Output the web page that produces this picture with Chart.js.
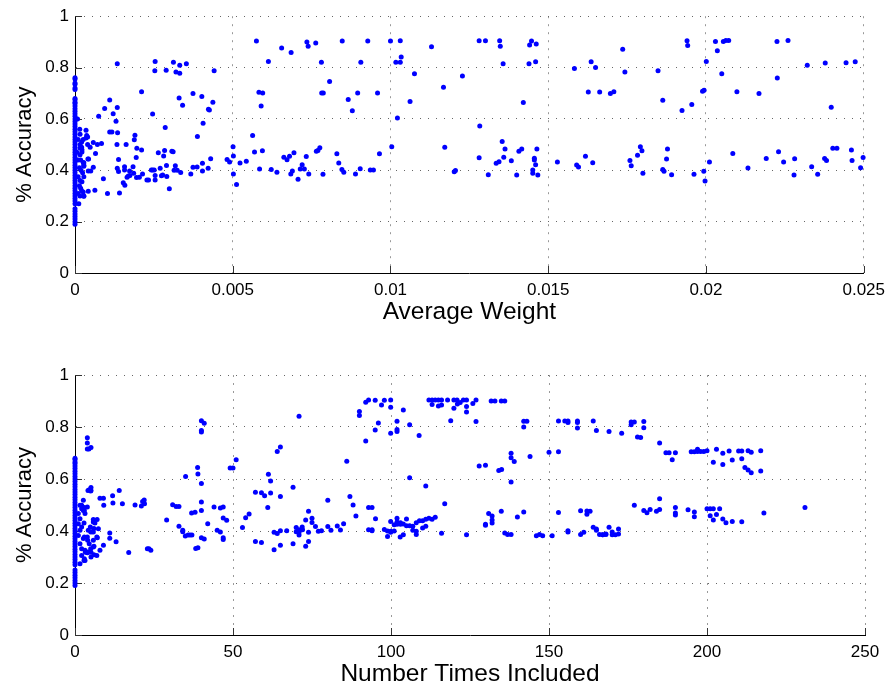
<!DOCTYPE html>
<html>
<head>
<meta charset="utf-8">
<script src="https://cdn.jsdelivr.net/npm/chart.js@4.4.0/dist/chart.umd.min.js"></script>
<style>
  html, body { margin: 0; padding: 0; background: #fff; }
  body { width: 892px; height: 693px; position: relative; overflow: hidden; }
  canvas { position: absolute; left: 0; }
</style>
</head>
<body>
<canvas id="weightChart" width="892" height="346" style="top:0"></canvas>
<canvas id="timesChart" width="892" height="347" style="top:346px"></canvas>
<script>
const accuracyTicks = [0, 0.2, 0.4, 0.6, 0.8, 1];
const weightTicks = [0, 0.005, 0.01, 0.015, 0.02, 0.025];
const timesTicks = [0, 50, 100, 150, 200, 250];

// accuracy values sitting right on x = 0 (the dense column)
const weightZeroY = [0.76, 0.755, 0.74, 0.735, 0.72, 0.715, 0.68, 0.675, 0.665, 0.66, 0.65, 0.64, 0.63, 0.62, 0.61,
  0.6, 0.59, 0.58, 0.57, 0.56, 0.55, 0.54, 0.53, 0.52, 0.51, 0.5, 0.49, 0.48, 0.47, 0.46, 0.45, 0.44, 0.43, 0.42,
  0.41, 0.4, 0.39, 0.38, 0.37, 0.36, 0.35, 0.34, 0.33, 0.32, 0.31, 0.3, 0.29, 0.28, 0.27, 0.25, 0.24, 0.23, 0.22,
  0.21, 0.2, 0.19];

const weightPoints = [
  [0.0001, 0.52], [0.00016, 0.5], [0.00021, 0.49], [0.00021, 0.51], [0.00022, 0.48], [0.00016, 0.46], [0.0001, 0.44],
  [0.00018, 0.44], [0.00026, 0.43], [0.00028, 0.42], [0.00014, 0.41], [0.00019, 0.4], [0.00024, 0.39], [0.0001, 0.375],
  [0.00016, 0.36], [0.00022, 0.355], [0.00028, 0.375], [0.00014, 0.34], [0.00018, 0.33], [0.00021, 0.32], [0.00026, 0.315],
  [0.0001, 0.31], [0.00016, 0.3], [0.00028, 0.3], [0.00012, 0.27], [0.00016, 0.54], [0.00026, 0.52], [0.00015, 0.56],
  [0.00008, 0.6], [0.00006, 0.47],
  [0.00134, 0.815], [0.00254, 0.824], [0.00253, 0.788], [0.00312, 0.821], [0.00332, 0.809], [0.00353, 0.815],
  [0.00289, 0.79], [0.0032, 0.783], [0.00332, 0.778], [0.00441, 0.788], [0.00211, 0.706], [0.0011, 0.674],
  [0.00094, 0.641], [0.00134, 0.644], [0.00075, 0.61], [0.00121, 0.62], [0.0013, 0.591], [0.0011, 0.549],
  [0.00117, 0.549], [0.00135, 0.546], [0.00035, 0.556], [0.00037, 0.535], [0.0004, 0.53], [0.00035, 0.526],
  [0.0019, 0.536], [0.00188, 0.519], [0.00133, 0.5], [0.00162, 0.5], [0.00058, 0.508], [0.00071, 0.5],
  [0.00084, 0.504], [0.0004, 0.5], [0.00022, 0.471], [0.00016, 0.487], [0.00196, 0.486], [0.00211, 0.479],
  [0.00194, 0.45], [0.00138, 0.442], [0.00065, 0.465], [0.00041, 0.444], [0.00028, 0.429], [0.00028, 0.416],
  [0.00058, 0.412], [0.00134, 0.408], [0.00138, 0.395], [0.00157, 0.414], [0.00157, 0.401], [0.00173, 0.397],
  [0.00184, 0.414], [0.00186, 0.388], [0.00165, 0.373], [0.00169, 0.378], [0.00174, 0.38], [0.00195, 0.372],
  [0.00204, 0.373], [0.00214, 0.386], [0.00228, 0.362], [0.00233, 0.362], [0.00242, 0.401], [0.00246, 0.401],
  [0.00251, 0.401], [0.00254, 0.362], [0.00254, 0.38], [0.0027, 0.408], [0.00274, 0.379], [0.00278, 0.382],
  [0.0029, 0.419], [0.00291, 0.376], [0.00299, 0.328], [0.00314, 0.4], [0.00318, 0.418], [0.00324, 0.4],
  [0.00335, 0.391], [0.00367, 0.386], [0.00374, 0.412], [0.00387, 0.413], [0.00404, 0.427], [0.00404, 0.397],
  [0.00422, 0.408], [0.0043, 0.445], [0.00406, 0.583], [0.00388, 0.532], [0.00374, 0.699], [0.00402, 0.687],
  [0.00423, 0.638], [0.00426, 0.635], [0.00437, 0.665], [0.0033, 0.681], [0.00341, 0.653], [0.00246, 0.619],
  [0.00286, 0.567], [0.00264, 0.468], [0.00281, 0.456], [0.00284, 0.477], [0.00307, 0.474], [0.00311, 0.472],
  [0.0009, 0.367], [0.00103, 0.31], [0.00141, 0.312], [0.00153, 0.351], [0.00158, 0.342], [0.00063, 0.322],
  [0.00042, 0.318], [0.00028, 0.299], [0.00042, 0.397], [0.0005, 0.397], [0.00043, 0.444], [0.00048, 0.49],
  [0.00575, 0.903], [0.00613, 0.824], [0.00655, 0.876], [0.00685, 0.859], [0.00735, 0.9], [0.00739, 0.883],
  [0.00763, 0.896], [0.00781, 0.821], [0.00807, 0.746], [0.00782, 0.701], [0.00787, 0.701], [0.00583, 0.704],
  [0.00595, 0.701], [0.0059, 0.65], [0.00563, 0.535], [0.00569, 0.471], [0.00594, 0.476], [0.00585, 0.405],
  [0.00501, 0.492], [0.00502, 0.456], [0.00502, 0.386], [0.00512, 0.345], [0.00523, 0.428], [0.00543, 0.435],
  [0.00482, 0.442], [0.0049, 0.432], [0.00622, 0.403], [0.0064, 0.392], [0.00662, 0.451], [0.00672, 0.441],
  [0.0068, 0.455], [0.00684, 0.386], [0.00689, 0.397], [0.00694, 0.468], [0.00707, 0.365], [0.00714, 0.405],
  [0.0072, 0.422], [0.00727, 0.405], [0.00733, 0.454], [0.00741, 0.386], [0.00765, 0.474], [0.0077, 0.477],
  [0.00776, 0.488], [0.00786, 0.385], [0.0083, 0.464], [0.00836, 0.428],
  [0.00847, 0.903], [0.00928, 0.903], [0.00906, 0.821], [0.00896, 0.701], [0.00866, 0.676], [0.00879, 0.632],
  [0.00959, 0.701], [0.00846, 0.403], [0.00852, 0.392], [0.00889, 0.386], [0.00904, 0.406], [0.00936, 0.401],
  [0.00946, 0.401], [0.00965, 0.464], [0.01, 0.903], [0.01031, 0.904], [0.01017, 0.821], [0.01031, 0.821],
  [0.01034, 0.841], [0.0113, 0.881], [0.01076, 0.776], [0.01168, 0.723], [0.01228, 0.767], [0.01062, 0.668],
  [0.01022, 0.604], [0.01004, 0.492], [0.01172, 0.49], [0.01202, 0.394], [0.01206, 0.399], [0.01281, 0.904],
  [0.01301, 0.904], [0.01346, 0.904], [0.01348, 0.883], [0.01357, 0.815], [0.01441, 0.888], [0.01447, 0.903],
  [0.01462, 0.892], [0.0146, 0.823], [0.01439, 0.815], [0.01421, 0.664], [0.01283, 0.572], [0.01281, 0.449],
  [0.0131, 0.383], [0.01335, 0.427], [0.01344, 0.433], [0.01354, 0.512], [0.01363, 0.483], [0.01359, 0.451],
  [0.01383, 0.437], [0.014, 0.382], [0.01407, 0.474], [0.01416, 0.483], [0.01456, 0.447], [0.01456, 0.44],
  [0.0146, 0.422], [0.01451, 0.401], [0.01451, 0.388], [0.01467, 0.382], [0.01464, 0.483], [0.01529, 0.432],
  [0.01583, 0.796], [0.01636, 0.823], [0.0165, 0.8], [0.01627, 0.705], [0.01663, 0.705], [0.0159, 0.421],
  [0.01596, 0.413], [0.01618, 0.455], [0.01641, 0.429],
  [0.01736, 0.871], [0.01743, 0.783], [0.01697, 0.699], [0.01708, 0.706], [0.01848, 0.788], [0.01863, 0.673],
  [0.01924, 0.633], [0.01955, 0.656], [0.0194, 0.904], [0.01942, 0.886], [0.01989, 0.708], [0.01994, 0.712],
  [0.02001, 0.824], [0.0203, 0.901], [0.02036, 0.865], [0.02055, 0.901], [0.02063, 0.905], [0.02072, 0.905],
  [0.0205, 0.776], [0.02098, 0.706], [0.02168, 0.699], [0.02225, 0.901], [0.0226, 0.905], [0.02226, 0.759],
  [0.02321, 0.809], [0.02378, 0.818], [0.02397, 0.645], [0.02444, 0.819], [0.02473, 0.823], [0.01759, 0.438],
  [0.01763, 0.418], [0.01783, 0.459], [0.01792, 0.492], [0.01797, 0.476], [0.018, 0.388], [0.01863, 0.403],
  [0.01867, 0.396], [0.01875, 0.444], [0.01878, 0.483], [0.01891, 0.383], [0.01962, 0.385], [0.01993, 0.396],
  [0.01997, 0.358], [0.02011, 0.432], [0.02085, 0.465], [0.02133, 0.409], [0.02191, 0.446], [0.0223, 0.472],
  [0.02246, 0.432], [0.02279, 0.382], [0.02281, 0.445], [0.02335, 0.414], [0.02354, 0.385], [0.02376, 0.446],
  [0.02382, 0.438], [0.02402, 0.486], [0.02415, 0.486], [0.02461, 0.479], [0.02463, 0.438], [0.0249, 0.41],
  [0.02498, 0.45]
];

const timesZeroY = [0.68, 0.675, 0.665, 0.66, 0.65, 0.64, 0.63, 0.62, 0.61, 0.6, 0.59, 0.58, 0.57, 0.56, 0.55,
  0.54, 0.53, 0.52, 0.51, 0.5, 0.49, 0.48, 0.47, 0.46, 0.45, 0.44, 0.43, 0.42, 0.41, 0.4, 0.39, 0.38, 0.37, 0.36,
  0.35, 0.34, 0.33, 0.32, 0.31, 0.3, 0.29, 0.28, 0.27, 0.25, 0.24, 0.23, 0.22, 0.21, 0.2, 0.19];

const timesPoints = [
  [1.58, 0.499], [2.1, 0.486], [1.05, 0.467], [2.64, 0.479], [1.58, 0.447], [1.05, 0.428], [2.1, 0.415],
  [1.58, 0.403], [1.05, 0.383], [2.64, 0.371], [1.58, 0.351], [2.1, 0.332], [3.16, 0.326], [4.2, 0.319],
  [4.96, 0.332], [5.8, 0.338], [4.5, 0.351], [5.8, 0.364], [6.9, 0.377], [5.8, 0.396], [7.4, 0.409],
  [5.8, 0.435], [5.0, 0.396], [2.64, 0.518], [4.5, 0.559], [4.96, 0.554], [3.16, 0.287], [1.58, 0.274],
  [2.1, 0.306], [6.9, 0.306], [7.9, 0.326], [3.9, 0.492], [3.16, 0.467], [2.1, 0.499], [2.95, 0.49],
  [2.95, 0.479], [2.85, 0.431], [5.8, 0.444], [6.3, 0.431], [6.0, 0.41], [7.0, 0.444], [4.85, 0.415],
  [5.4, 0.397], [4.2, 0.403], [4.0, 0.364], [2.95, 0.377], [3.9, 0.377], [7.07, 0.374], [6.0, 0.341],
  [5.06, 0.3], [5.06, 0.318], [3.9, 0.316], [3.27, 0.318], [2.85, 0.287], [2.95, 0.293], [6.0, 0.309],
  [3.9, 0.759], [3.9, 0.738], [3.9, 0.715], [5.06, 0.721], [4.4, 0.715], [4.1, 0.556], [5.06, 0.567],
  [5.06, 0.556],
  [7.9, 0.526], [9.0, 0.526], [9.1, 0.499], [9.0, 0.345], [11.0, 0.392], [11.0, 0.372], [11.9, 0.536],
  [12.0, 0.508], [13.0, 0.359], [14.0, 0.556], [15.0, 0.505], [17.0, 0.317], [19.0, 0.5], [21.0, 0.496],
  [21.4, 0.513], [21.9, 0.519], [22.0, 0.505], [22.9, 0.332], [23.4, 0.332], [24.0, 0.326], [29.0, 0.442],
  [30.9, 0.501], [32.0, 0.494], [32.9, 0.494], [32.9, 0.418], [34.1, 0.403], [34.1, 0.397], [35.0, 0.61],
  [34.9, 0.381], [35.8, 0.385], [36.4, 0.385], [37.0, 0.385], [36.9, 0.469], [38.0, 0.472], [38.2, 0.333],
  [38.9, 0.336], [38.8, 0.644], [38.9, 0.619], [40.0, 0.824], [40.0, 0.787], [40.0, 0.781], [40.9, 0.814],
  [40.0, 0.583], [40.0, 0.512], [40.0, 0.479], [40.0, 0.374], [40.9, 0.369], [42.0, 0.428], [44.0, 0.492],
  [45.0, 0.403], [46.0, 0.488], [46.9, 0.492], [46.0, 0.396], [46.9, 0.374], [46.9, 0.367], [46.9, 0.45],
  [48.0, 0.441], [49.1, 0.642], [50.0, 0.642], [51.0, 0.674], [53.0, 0.413], [54.0, 0.451], [55.1, 0.465],
  [57.1, 0.549], [57.1, 0.36], [59.0, 0.356], [59.0, 0.547], [60.0, 0.536], [61.0, 0.49], [61.2, 0.618],
  [61.9, 0.592], [61.9, 0.546], [63.0, 0.395], [64.0, 0.39], [63.0, 0.328], [64.0, 0.706], [65.0, 0.723],
  [65.0, 0.533], [65.0, 0.401], [65.0, 0.345], [67.0, 0.401], [69.0, 0.568], [69.0, 0.351], [70.0, 0.413],
  [70.0, 0.397], [70.9, 0.405], [70.9, 0.385], [70.9, 0.395], [71.9, 0.415], [72.0, 0.405], [70.9, 0.841],
  [73.0, 0.442], [73.0, 0.341], [73.9, 0.476], [75.0, 0.449], [75.0, 0.433], [73.9, 0.395], [73.9, 0.36],
  [76.1, 0.417], [77.0, 0.399], [78.0, 0.401], [80.0, 0.518], [80.0, 0.417], [81.0, 0.403], [83.0, 0.419],
  [84.0, 0.404], [85.0, 0.428], [86.0, 0.668], [87.0, 0.533], [88.0, 0.5], [88.9, 0.458], [90.0, 0.86],
  [90.0, 0.844], [92.0, 0.895], [92.9, 0.904], [92.0, 0.746], [95.0, 0.903], [95.0, 0.788], [96.0, 0.815],
  [97.0, 0.885], [97.9, 0.903], [99.9, 0.904], [99.9, 0.876], [99.9, 0.776], [101.9, 0.822], [101.9, 0.79],
  [101.9, 0.783], [103.9, 0.865], [105.9, 0.809], [108.9, 0.767], [105.9, 0.605], [111.0, 0.573], [92.9, 0.49],
  [94.0, 0.49], [95.1, 0.447], [92.9, 0.405], [94.0, 0.405], [94.0, 0.401], [97.9, 0.406], [98.9, 0.4],
  [99.9, 0.399], [101.0, 0.4], [98.9, 0.379], [99.9, 0.395], [99.9, 0.437], [101.0, 0.424], [101.9, 0.449],
  [101.9, 0.435], [103.0, 0.432], [103.9, 0.427], [103.0, 0.426], [101.9, 0.426], [102.9, 0.377], [103.9, 0.386],
  [104.9, 0.446], [104.9, 0.42], [105.9, 0.42], [106.9, 0.418], [106.9, 0.403], [108.0, 0.432], [108.0, 0.399],
  [108.0, 0.387], [109.0, 0.439], [110.0, 0.439], [110.0, 0.412], [111.0, 0.445], [111.0, 0.418], [112.0, 0.449],
  [113.0, 0.445], [114.0, 0.453], [116.0, 0.391], [117.0, 0.505],
  [112.0, 0.904], [113.0, 0.904], [114.0, 0.904], [115.0, 0.904], [116.0, 0.904], [113.0, 0.887], [115.0, 0.881],
  [116.0, 0.885], [117.9, 0.904], [119.9, 0.904], [120.9, 0.904], [122.9, 0.904], [123.9, 0.904], [126.9, 0.904],
  [121.0, 0.888], [121.9, 0.894], [119.9, 0.872], [123.9, 0.879], [123.9, 0.858], [125.9, 0.89], [118.9, 0.824],
  [126.9, 0.821], [123.9, 0.386], [127.9, 0.65], [129.9, 0.653], [129.9, 0.426], [129.9, 0.422], [130.9, 0.467],
  [132.0, 0.458], [132.0, 0.442], [132.0, 0.431], [131.7, 0.9], [132.9, 0.9], [134.9, 0.9], [136.0, 0.9],
  [134.1, 0.633], [135.0, 0.637], [134.9, 0.476], [136.0, 0.392], [136.9, 0.387], [138.0, 0.387], [138.0, 0.699],
  [138.0, 0.682], [139.0, 0.667], [138.0, 0.588], [140.0, 0.454], [142.0, 0.473], [142.0, 0.822], [142.0, 0.8],
  [143.0, 0.822], [144.0, 0.687], [146.0, 0.382], [147.0, 0.387], [148.0, 0.382], [150.0, 0.703], [151.0, 0.382],
  [153.0, 0.823], [153.0, 0.705], [153.0, 0.471], [155.0, 0.823], [156.0, 0.823], [156.0, 0.817], [159.0, 0.823],
  [159.0, 0.817], [159.0, 0.796], [164.0, 0.823], [156.0, 0.401], [156.0, 0.396], [160.0, 0.387], [161.0, 0.395],
  [160.0, 0.478], [162.0, 0.477], [162.0, 0.464], [163.0, 0.476], [165.0, 0.787], [164.0, 0.414], [165.0, 0.408],
  [165.0, 0.403], [166.0, 0.387], [167.0, 0.386], [168.0, 0.387], [169.0, 0.783], [169.0, 0.414],
  [173.0, 0.776], [176.0, 0.819], [176.0, 0.809], [177.0, 0.819], [180.0, 0.821], [180.0, 0.797], [178.0, 0.762],
  [179.0, 0.76], [185.0, 0.738], [187.0, 0.701], [188.0, 0.701], [190.0, 0.701], [189.0, 0.674], [195.0, 0.705],
  [196.0, 0.705], [197.0, 0.714], [197.0, 0.706], [198.0, 0.706], [199.0, 0.706], [200.0, 0.709], [202.0, 0.664],
  [203.0, 0.714], [205.0, 0.699], [205.0, 0.656], [207.0, 0.708], [208.0, 0.673], [210.0, 0.708], [211.0, 0.708],
  [211.0, 0.678], [212.0, 0.644], [213.0, 0.709], [213.0, 0.635], [214.0, 0.703], [214.0, 0.624], [217.0, 0.709],
  [217.0, 0.631],
  [167.0, 0.386], [168.0, 0.388], [170.0, 0.396], [170.0, 0.386], [171.0, 0.386], [172.0, 0.408], [172.0, 0.388],
  [177.0, 0.499], [180.0, 0.479], [181.0, 0.47], [182.0, 0.483], [184.0, 0.476], [185.0, 0.483], [185.0, 0.524],
  [190.0, 0.49], [190.0, 0.469], [190.0, 0.462], [194.0, 0.482], [196.0, 0.473], [196.0, 0.455], [200.0, 0.486],
  [201.0, 0.486], [202.0, 0.486], [204.0, 0.486], [201.0, 0.459], [203.0, 0.463], [202.0, 0.442], [205.0, 0.446],
  [206.0, 0.432], [208.0, 0.437], [211.0, 0.436], [218.0, 0.469], [231.0, 0.49]
];

const FONT = "'Liberation Sans', Arial, Helvetica, sans-serif";

// matlab style: short tick marks pointing into the plot
const inwardTicks = {
  id: 'inwardTicks',
  beforeDatasetsDraw(chart) {
    const ctx = chart.ctx;
    const xs = chart.scales.x, ys = chart.scales.y;
    const area = chart.chartArea;
    ctx.save();
    ctx.strokeStyle = '#333';
    ctx.lineWidth = 1;
    ctx.beginPath();
    xs.ticks.forEach(t => {
      const px = Math.round(xs.getPixelForValue(t.value)) + 0.5;
      ctx.moveTo(px, area.bottom);
      ctx.lineTo(px, area.bottom - 7);
    });
    ys.ticks.forEach(t => {
      const py = Math.round(ys.getPixelForValue(t.value)) + 0.5;
      ctx.moveTo(area.left, py);
      ctx.lineTo(area.left + 7, py);
    });
    ctx.stroke();
    ctx.restore();
  }
};

function makeScatter(canvasId, zeroY, points, xTicks, xTitle, padTop, axisHeight, titlePad) {
  const data = zeroY.map(y => ({ x: 0, y: y }))
    .concat(points.map(p => ({ x: p[0], y: p[1] })));

  new Chart(document.getElementById(canvasId), {
    type: 'scatter',
    data: {
      datasets: [{
        data: data,
        backgroundColor: '#0000ff',
        borderWidth: 0,
        pointRadius: 2.5,
        clip: false
      }]
    },
    plugins: [inwardTicks],
    options: {
      responsive: false,
      animation: false,
      devicePixelRatio: 1,
      layout: { padding: { left: 0, right: 27, top: padTop, bottom: 0 } },
      plugins: {
        legend: { display: false },
        tooltip: { enabled: false }
      },
      scales: {
        x: {
          type: 'linear',
          min: xTicks[0],
          max: xTicks[xTicks.length - 1],
          afterBuildTicks: s => { s.ticks = xTicks.map(v => ({ value: v })); },
          afterFit: s => { s.height = axisHeight; },
          grid: { color: '#999', drawTicks: false },
          border: { color: '#000', width: 1, dash: [2, 6] },
          ticks: {
            color: '#000', font: { family: FONT, size: 17 }, padding: 7,
            maxRotation: 0, autoSkip: false, callback: v => String(v)
          },
          title: {
            display: true, text: xTitle, color: '#000',
            font: { family: FONT, size: 24.5 }, padding: { top: 0, bottom: titlePad }
          }
        },
        y: {
          type: 'linear',
          min: 0,
          max: 1,
          afterBuildTicks: s => { s.ticks = accuracyTicks.map(v => ({ value: v })); },
          afterFit: s => { s.width = 75; },
          grid: { color: '#666', drawTicks: false },
          border: { color: '#000', width: 1, dash: [1, 7] },
          ticks: {
            color: '#000', font: { family: FONT, size: 17 }, padding: 6,
            autoSkip: false, callback: v => String(v)
          },
          title: {
            display: true, text: '% Accuracy', color: '#000',
            font: { family: FONT, size: 22 }, padding: { top: 12, bottom: 0 }
          }
        }
      }
    }
  });
}

makeScatter('weightChart', weightZeroY, weightPoints, weightTicks, 'Average Weight', 13, 73, 19);
makeScatter('timesChart', timesZeroY, timesPoints, timesTicks, 'Number Times Included', 29, 58, 4);
</script>
</body>
</html>
